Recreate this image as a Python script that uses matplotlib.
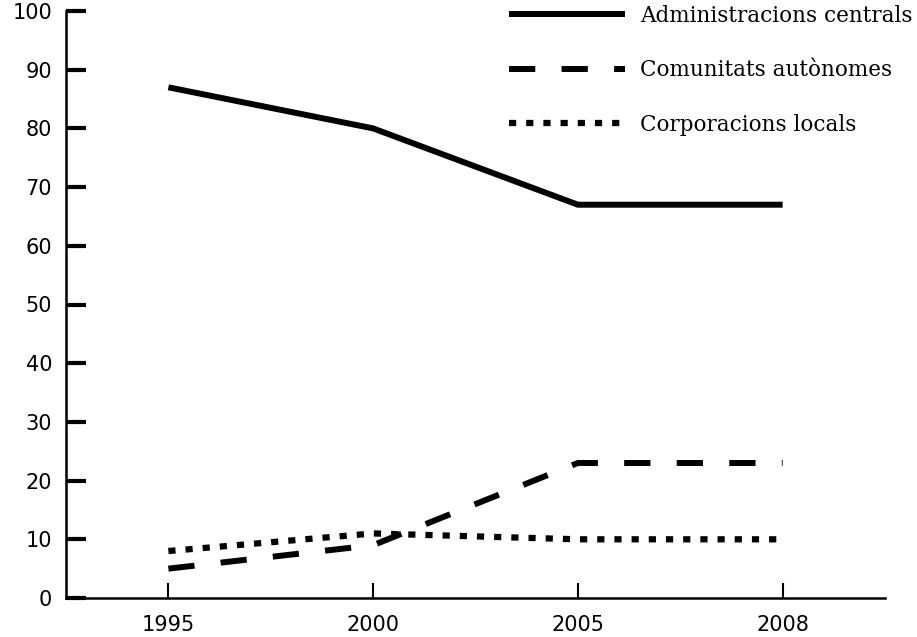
import matplotlib.pyplot as plt
import numpy as np

# dades
anys = ["1995", "2000", "2005", "2008"]
centrals = [87, 80, 67, 67]
autonomes = [5, 9, 23, 23]
locals_ = [8, 11, 10, 10]

x = np.arange(len(anys))

fig = plt.figure(figsize=(9.17, 6.37), dpi=100)
ax = fig.add_axes([66/917, 39/637, (885-66)/917, (598-11)/637])

ax.plot(x, centrals, color="black", lw=4.3, solid_capstyle="butt",
        label="Administracions centrals")
ax.plot(x, autonomes, color="black", lw=4.3, dashes=(4.4, 4.4),
        dash_capstyle="butt", label="Comunitats autònomes")
ax.plot(x, locals_, color="black", lw=4.5, dashes=(1.15, 1.6),
        dash_capstyle="butt", label="Corporacions locals")

ax.set_xlim(-0.5, 3.5)
ax.set_ylim(0, 100)
ax.set_xticks(x)
ax.set_xticklabels(anys)
ax.set_yticks(range(0, 101, 10))

for s in ["top", "right"]:
    ax.spines[s].set_visible(False)
ax.spines["left"].set_linewidth(1.8)
ax.spines["bottom"].set_linewidth(1.8)

ax.tick_params(axis="y", direction="in", length=14.5, width=3, pad=10,
               labelsize=15)
ax.tick_params(axis="x", direction="in", length=11, width=1.5, pad=12,
               labelsize=15)
for lab in ax.get_xticklabels() + ax.get_yticklabels():
    lab.set_family(["DejaVu Sans"])

leg = ax.legend(loc="upper left", bbox_to_anchor=(509/917, 1 - 5/637),
                bbox_transform=fig.transFigure, frameon=False,
                borderaxespad=0, borderpad=0, handlelength=5.4,
                handletextpad=0.68, labelspacing=1.5,
                prop={"family": "DejaVu Serif", "size": 15.5})

fig.savefig("out.png", dpi=100)
